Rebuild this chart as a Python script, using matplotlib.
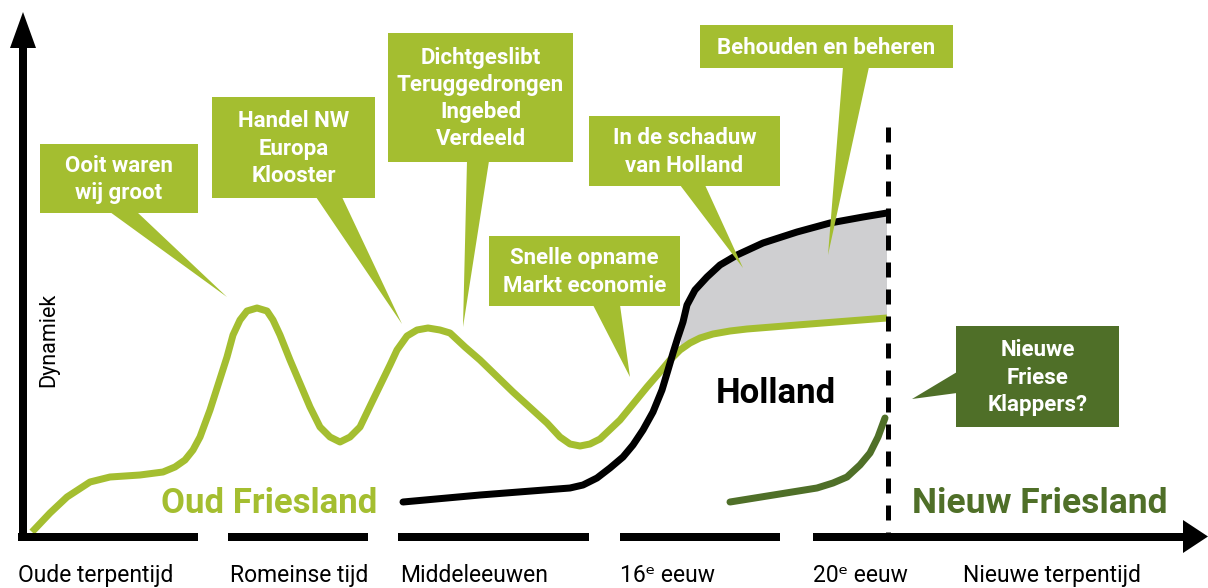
import numpy as np
import matplotlib.pyplot as plt
from matplotlib.patches import Rectangle, Polygon

# curves (x, y in picture pixels, y down)
oud_x = [32, 50, 67, 90, 110, 140, 163, 175, 185, 193, 200, 210, 227, 233, 240, 247, 257, 267,
         273, 280, 290, 310, 320, 330, 340, 350, 360, 373, 390, 397, 407, 417, 428, 440, 450,
         465, 480, 513, 547, 560, 570, 580, 590, 600, 620, 647, 660, 670, 680, 690, 700, 713,
         730, 747, 797, 887]
oud_y = [532, 513, 497, 482, 477, 475, 472, 467, 460, 450, 437, 410, 357, 335, 320, 311, 308, 311,
         320, 335, 360, 407, 427, 437, 442, 437, 427, 400, 365, 350, 336, 330, 328, 330, 333,
         347, 360, 392, 423, 437, 444, 446, 444, 439, 420, 387, 372, 360, 350, 343, 338, 334,
         331, 329, 325, 318]
holland_x = [403, 480, 570, 583, 597, 610, 623, 633, 643, 653, 662, 668, 673, 678, 683, 687, 695,
             707, 720, 737, 763, 797, 830, 863, 887]
holland_y = [502, 495, 488, 485, 478, 468, 457, 445, 430, 412, 390, 370, 353, 337, 322, 305, 290,
             277, 265, 255, 243, 232, 223, 217, 213]
nieuw_x = [730, 817, 833, 847, 860, 870, 878, 885]
nieuw_y = [502, 488, 483, 477, 465, 453, 437, 418]

periods = ['Oude terpentijd', 'Romeinse tijd', 'Middeleeuwen', '16ᵉ eeuw', '20ᵉ eeuw', 'Nieuwe terpentijd']
period_x = [18, 230, 400, 620, 813, 963]

callout_texts = ['Ooit waren\nwij groot', 'Handel NW\nEuropa\nKlooster',
                 'Dichtgeslibt\nTeruggedrongen\nIngebed\nVerdeeld', 'Snelle opname\nMarkt economie',
                 'In de schaduw\nvan Holland', 'Behouden en beheren', 'Nieuwe\nFriese\nKlappers?']
# box: x0, y0, x1, y1 ; tail: two base points + tip
callout_box = [(40, 144, 198, 213), (212, 97, 375, 198), (388, 33, 573, 162), (489, 236, 680, 306),
               (589, 116, 780, 186), (700, 25, 953, 68), (956, 326, 1119, 427)]
callout_tail = [((110, 212), (137, 212), (227, 297)),
                ((316, 197), (342, 197), (402, 324)),
                ((467, 161), (489, 161), (463, 327)),
                ((593, 305), (620, 305), (630, 377)),
                ((680, 185), (705, 185), (743, 268)),
                ((843, 67), (869, 67), (828, 255)),
                ((957, 372), (957, 393), (912, 399))]

light_green = '#a4be30'
dark_green = '#4f6f28'
grey = '#cfcfd1'
px = 0.72  # one pixel in points at dpi 100

plt.rcParams['font.family'] = ['Roboto', 'DejaVu Sans']

fig = plt.figure(figsize=(12.08, 5.88), dpi=100)
ax = fig.add_axes([0, 0, 1, 1])
ax.set_xlim(0, 1208)
ax.set_ylim(588, 0)
ax.axis('off')

# shaded gap between Holland and Friesland
bx = np.array(holland_x)
gx = np.array(oud_x)
poly_x = np.concatenate([bx[bx >= 680], gx[gx >= 680][::-1]])
poly_y = np.concatenate([np.array(holland_y)[bx >= 680], np.array(oud_y)[gx >= 680][::-1]])
ax.fill(poly_x, poly_y, color=grey, zorder=1, lw=0)

# axes with arrows
ax.plot([22.5, 22.5], [540, 45], color='black', lw=8 * px, solid_capstyle='butt', zorder=3)
ax.fill([10, 36, 23], [48, 48, 12], color='black', zorder=3, lw=0)
for x0, x1 in [(18, 198), (228, 368), (398, 589), (620, 780), (813, 1186)]:
    ax.plot([x0, x1], [536.5, 536.5], color='black', lw=8 * px, solid_capstyle='butt', zorder=3)
ax.fill([1183, 1183, 1208], [520, 553, 536.5], color='black', zorder=3, lw=0)

# 20th century divider
ax.plot([888, 888], [127, 536], color='black', lw=5 * px, linestyle=(0, (3, 2.4)),
        dash_capstyle='butt', zorder=3)

ax.plot(oud_x, oud_y, color=light_green, lw=7 * px, solid_capstyle='butt',
        solid_joinstyle='round', zorder=2)
ax.plot(holland_x, holland_y, color='black', lw=7 * px, solid_capstyle='round',
        solid_joinstyle='round', zorder=2.5)
ax.plot(nieuw_x, nieuw_y, color=dark_green, lw=7 * px, solid_capstyle='round',
        solid_joinstyle='round', zorder=2)

# callouts
for i, (txt, box, tail) in enumerate(zip(callout_texts, callout_box, callout_tail)):
    col = dark_green if i == len(callout_texts) - 1 else light_green
    x0, y0, x1, y1 = box
    ax.add_patch(Rectangle((x0, y0), x1 - x0, y1 - y0, color=col, lw=0, zorder=4))
    ax.add_patch(Polygon(tail, closed=True, color=col, lw=0, zorder=4))
    ax.text((x0 + x1) / 2, (y0 + y1) / 2 + 1, txt, color='white', fontsize=16,
            fontweight='bold', ha='center', va='center', linespacing=1.3, zorder=5)

ax.text(49, 340, 'Dynamiek', rotation=90, fontsize=15.5, ha='center', va='center')
ax.text(161, 513, 'Oud Friesland', color=light_green, fontsize=25, fontweight='bold',
        ha='left', va='baseline')
ax.text(716, 403, 'Holland', color='black', fontsize=25, fontweight='bold',
        ha='left', va='baseline')
ax.text(912, 513, 'Nieuw Friesland', color=dark_green, fontsize=25.5, fontweight='bold',
        ha='left', va='baseline')

# period labels along the time axis (kept fully inside the picture)
for name, x in zip(periods, period_x):
    ax.text(x, 582, name, fontsize=16.5, ha='left', va='baseline')

fig.savefig('out.png', dpi=100)
